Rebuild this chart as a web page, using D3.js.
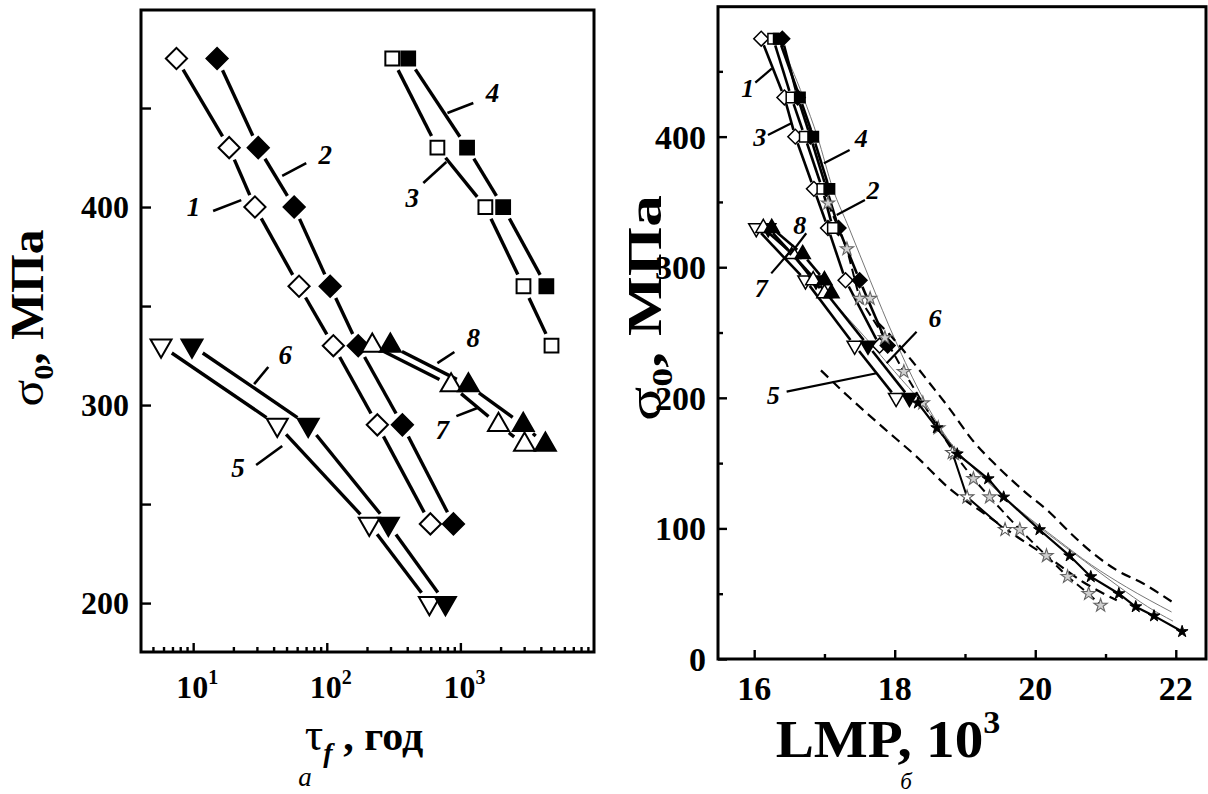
<!DOCTYPE html>
<html><head><meta charset="utf-8">
<script src="https://cdn.jsdelivr.net/npm/d3@7/dist/d3.min.js"></script>
<style>
body{margin:0;background:#fff}
svg{display:block}
text{font-family:"Liberation Serif","Times New Roman",serif;fill:#000}
</style>
</head><body>
<svg id="c" width="1208" height="794"></svg>
<script>
// ---------------- DATA ----------------
// Panel a: stress (MPa) vs rupture time (hours)
const stress1 = [475,430,400,360,330,290,240];
const tau1    = [7.5,18.6,29,62,112,239,596];
const stress2 = [475,430,400,360,330,290,240];
const tau2    = [15.1,30.7,57,106,172,368,887];
const stress3 = [475,430,400,360,330];
const tau3    = [309,673,1538,2966,4808];
const stress4 = [475,430,400,360];
const tau4    = [407,1122,2090,4400];
const stress5 = [330,290,240,200];
const tau5    = [5.75,42.6,208,586];
const stress6 = [330,290,240,200];
const tau6    = [9.8,72.6,289,773];
const stress7 = [330,310,290,280];
const tau7    = [219,852,1928,3020];
const stress8 = [330,310,290,280];
const tau8    = [299,1148,2954,4326];

// Panel б: same stresses vs LMP (x10^3)
const lmp1 = [16.10,16.43,16.585,16.85,17.05,17.30,17.785];
const lmp2 = [16.40,16.62,16.80,17.03,17.20,17.50,17.90];
const lmp3 = [16.27,16.53,16.72,16.97,17.12];
const lmp4 = [16.35,16.65,16.84,17.07];
const lmp5 = [16.03,16.73,17.43,18.02];
const lmp6 = [16.20,16.88,17.62,18.21];
const lmp7 = [16.13,16.55,16.84,17.00];
const lmp8 = [16.25,16.69,17.00,17.10];

const blackStarLmp = [18.33,18.60,18.89,19.33,19.55,20.06,20.49,20.79,21.19,21.43,21.69,22.09];
const blackStarSig = [196,177,157,138,124,99,79,63,50,40,33,21];
const grayStarLmp  = [17.05,17.32,17.50,17.86,18.13,18.40,18.62,18.85,19.12,19.35,19.78,20.16,20.46,20.76,20.93];
const grayStarSig  = [349,314,276,246,220,196,177,157,138,124,99,79,63,50,41];
const grayStar2Lmp = [17.65];
const grayStar2Sig = [276];
const openStarLmp  = [18.82,19.03,19.57];
const openStarSig  = [158,124,99];

const upperDashLmp = [17.75,17.90,18.25,18.50,18.79,19.10,19.45,19.83,20.21,20.49,20.82,21.16,21.53,21.94];
const upperDashSig = [258,250,228,211,191,168,148,129,112,97,81,68,58,44];
const lowerDashLmp = [16.95,17.36,17.84,18.31,18.79,19.26,19.73,20.21,20.68,21.16];
const lowerDashSig = [221,200,177,155,130,112,94,77,59,45];
const thinALmp = [16.35,16.70,16.90,17.12,17.35,17.65,18.0,18.4,18.8,19.3,19.8,20.3,20.8,21.3,21.94];
const thinASig = [475,430,400,360,330,290,245,200,165,137,113,92,72,55,36];
const thinBLmp = [16.15,16.6,17.1,17.6,18.0,18.4,18.8,19.2,19.7,20.2,20.7,21.2,21.6,21.96];
const thinBSig = [330,305,275,245,220,195,165,142,117,95,75,55,40,29];

// ticks
const leftYTicks = [200,300,400];
const leftYMinor = [250,350,450];
const leftXTicks = [10,100,1000];
const leftXSup   = ["1","2","3"];
const rightYTicks = [0,100,200,300,400];
const rightYMinor = [50,150,250,350,450];
const rightXTicks = [16,18,20,22];
const rightXMinor = [17,19,21];

// curve labels (number, position, leader ends) in data units
const labelNums = ["1","2","3","4","5","6","7","8"];
const leftLabelTau = [10.05,97.5,436,1738,21.7,48.9,733,1250];
const leftLabelSig = [400,426.3,405,457.6,268.2,325.3,287.4,334.3];
const leftLeadTau1 = [14.1,46.4,528,800,29.6,28.6,933,673];
const leftLeadSig1 = [398,415.7,412.1,447.5,269.7,310.6,294.4,321.2];
const leftLeadTau2 = [22.9,70.2,785,1250,46.4,36.5,1340,902];
const leftLeadSig2 = [403.5,422.2,422.7,452.5,279.3,319.2,298.5,326.8];
const rightLabelLmp = [15.91,17.69,16.078,17.523,16.272,18.572,16.101,16.647];
const rightLabelSig = [437.2,359.1,399.9,398.7,202.1,260.9,283.8,332.3];
const rightLeadLmp1 = [16.016,17.174,16.196,16.993,16.462,18.311,16.243,16.741];
const rightLeadSig1 = [441.3,340,401.2,379.6,204.7,250.6,295.3,326];
const rightLeadLmp2 = [16.253,17.576,16.528,17.358,17.742,17.885,16.552,16.505];
const rightLeadSig2 = [452.3,351.5,410.2,389.7,218.8,226.4,314.5,309.3];

// ---------------- DRAWING ----------------
const svg = d3.select("#c");
const xL = d3.scaleLog().domain([4.07,10000]).range([141,594]);
const yL = d3.scaleLinear().domain([175.3,499.5]).range([652,10]);
const xR = d3.scaleLinear().domain([15.485,22.43]).range([718,1206]);
const yR = d3.scaleLinear().domain([0,499.5]).range([659,6.7]);

const kinds = [["diamond",false],["diamond",true],["square",false],["square",true],
               ["tdown",false],["tdown",true],["tup",false],["tup",true]];
const MK = {
  diamond:{type:d3.symbolSquare,rot:45},
  square:{type:d3.symbolSquare,rot:0},
  tdown:{type:d3.symbolTriangle,rot:180},
  tup:{type:d3.symbolTriangle,rot:0}
};
const sizesL = {diamond:225,square:190,tdown:190,tup:190};
const sizesR = {diamond:110,square:110,tdown:100,tup:100};

function gapSegs(pts,g){
  const s=[];
  for(let i=0;i<pts.length-1;i++){
    const [x1,y1]=pts[i],[x2,y2]=pts[i+1];
    const dx=x2-x1,dy=y2-y1,L=Math.hypot(dx,dy);
    if(L<=2*g+1) continue;
    const ux=dx/L,uy=dy/L;
    s.push([[x1+ux*g,y1+uy*g],[x2-ux*g,y2-uy*g]]);
  }
  return s;
}
function drawSegs(g,segs,w){
  g.selectAll(null).data(segs).join("line")
   .attr("x1",d=>d[0][0]).attr("y1",d=>d[0][1]).attr("x2",d=>d[1][0]).attr("y2",d=>d[1][1])
   .attr("stroke","#000").attr("stroke-width",w).attr("stroke-linecap","butt");
}
function drawMarkers(g,pts,kind,filled,size,sw){
  g.selectAll(null).data(pts).join("path")
   .attr("d",d3.symbol().type(MK[kind].type).size(size)())
   .attr("transform",d=>`translate(${d[0]},${d[1]}) rotate(${MK[kind].rot})`)
   .attr("fill",filled?"#000":"#fff").attr("stroke","#000").attr("stroke-width",sw);
}
const line = d3.line();

// ===== Panel a =====
const gA = svg.append("g");
const tauS = [tau1,tau2,tau3,tau4,tau5,tau6,tau7,tau8];
const sigS = [stress1,stress2,stress3,stress4,stress5,stress6,stress7,stress8];
const ptsA = tauS.map((t,i)=>t.map((v,j)=>[xL(v),yL(sigS[i][j])]));
ptsA.forEach(p=>drawSegs(gA,gapSegs(p,13),3.4));
ptsA.forEach((p,i)=>drawMarkers(gA,p,kinds[i][0],kinds[i][1],sizesL[kinds[i][0]],2));

labelNums.forEach((n,i)=>{
  gA.append("line").attr("x1",xL(leftLeadTau1[i])).attr("y1",yL(leftLeadSig1[i]))
    .attr("x2",xL(leftLeadTau2[i])).attr("y2",yL(leftLeadSig2[i]))
    .attr("stroke","#000").attr("stroke-width",2.6);
  gA.append("text").attr("x",xL(leftLabelTau[i])).attr("y",yL(leftLabelSig[i]))
    .attr("text-anchor","middle").attr("dy","0.35em")
    .style("font-size","27px").style("font-style","italic").style("font-weight","bold").text(n);
});

gA.append("rect").attr("x",141).attr("y",10).attr("width",453).attr("height",642)
  .attr("fill","none").attr("stroke","#000").attr("stroke-width",3);
const axA = gA.append("g").attr("transform","translate(141,0)");
axA.call(d3.axisLeft(yL).tickValues(leftYTicks.concat(leftYMinor)).tickSizeInner(-10).tickSizeOuter(0).tickFormat(""));
const minorsL=[];
[1,10,100,1000].forEach(dec=>{for(let k=2;k<=9;k++){const v=k*dec; if(v>4.07&&v<10000) minorsL.push(v);}});
const axB = gA.append("g").attr("transform","translate(0,652)");
axB.call(d3.axisBottom(xL).tickValues(leftXTicks).tickSizeInner(-9).tickSizeOuter(0).tickFormat(""));
const axB2 = gA.append("g").attr("transform","translate(0,652)");
axB2.call(d3.axisBottom(xL).tickValues(minorsL).tickSizeInner(-5).tickSizeOuter(0).tickFormat(""));
[axA,axB,axB2].forEach(a=>{a.select(".domain").remove();a.selectAll(".tick line").attr("stroke-width",2.4);});

leftYTicks.forEach(v=>{
  gA.append("text").attr("x",129).attr("y",yL(v)).attr("dy","0.35em").attr("text-anchor","end")
    .style("font-size","32px").style("font-weight","bold").text(v);
});
leftXTicks.forEach((v,i)=>{
  const t=gA.append("text").attr("x",xL(v)+4).attr("y",698).attr("text-anchor","middle")
    .style("font-size","32px").style("font-weight","bold");
  t.append("tspan").text("10");
  t.append("tspan").attr("dy",-14).style("font-size","20px").text(leftXSup[i]);
});
const ytA = gA.append("text").attr("transform","translate(43,318) rotate(-90) scale(1.08,1)").attr("text-anchor","middle")
  .style("font-size","46px");
ytA.append("tspan").text("σ");
ytA.append("tspan").attr("dy",10).style("font-size","28px").style("font-weight","bold").text("0");
ytA.append("tspan").attr("dy",-10).style("font-weight","bold").text(", МПа");
const xtA = gA.append("text").attr("x",364).attr("y",750).attr("text-anchor","middle").style("font-size","46px");
xtA.append("tspan").text("τ");
xtA.append("tspan").attr("dy",12).style("font-size","28px").style("font-style","italic").style("font-weight","bold").text("f");
xtA.append("tspan").attr("dy",-12).style("font-weight","bold").style("font-size","42px").text(" , год");
gA.append("text").attr("x",305).attr("y",786).attr("text-anchor","middle")
  .style("font-size","27px").style("font-style","italic").text("а");

// ===== Panel б =====
const gB = svg.append("g");
const toR = (xs,ys)=>xs.map((v,j)=>[xR(v),yR(ys[j])]);
[[thinALmp,thinASig],[thinBLmp,thinBSig]].forEach(([a,b])=>{
  gB.append("path").attr("d",d3.line().curve(d3.curveMonotoneX)(toR(a,b)))
    .attr("fill","none").attr("stroke","#777").attr("stroke-width",1);
});
[[upperDashLmp,upperDashSig],[lowerDashLmp,lowerDashSig]].forEach(([a,b])=>{
  gB.append("path").attr("d",d3.line().curve(d3.curveMonotoneX)(toR(a,b)))
    .attr("fill","none").attr("stroke","#000").attr("stroke-width",2.2).attr("stroke-dasharray","10,6");
});
gB.append("path").attr("d",line(toR(grayStarLmp,grayStarSig))).attr("fill","none")
  .attr("stroke","#000").attr("stroke-width",2).attr("stroke-dasharray","9,5");
gB.append("path").attr("d",line(toR(blackStarLmp,blackStarSig))).attr("fill","none")
  .attr("stroke","#000").attr("stroke-width",2.2);
gB.append("path").attr("d",line(toR(openStarLmp,openStarSig))).attr("fill","none")
  .attr("stroke","#000").attr("stroke-width",2);

const lmpS = [lmp1,lmp2,lmp3,lmp4,lmp5,lmp6,lmp7,lmp8];
const ptsB = lmpS.map((l,i)=>toR(l,sigS[i]));
ptsB.forEach(p=>drawSegs(gB,gapSegs(p,7),2.6));
ptsB.forEach((p,i)=>drawMarkers(gB,p,kinds[i][0],kinds[i][1],sizesR[kinds[i][0]],1.5));

function drawStars(pts,fill,stroke,sw,size){
  const star = d3.symbol().type(d3.symbolStar).size(size)();
  gB.selectAll(null).data(pts).join("path").attr("d",star)
    .attr("transform",d=>`translate(${d[0]},${d[1]})`)
    .attr("fill",fill).attr("stroke",stroke).attr("stroke-width",sw);
}
drawStars(toR(grayStarLmp,grayStarSig),"#d0d0d0","#666",1.1,55);
drawStars(toR(grayStar2Lmp,grayStar2Sig),"#d0d0d0","#666",1.1,55);
drawStars(toR(openStarLmp,openStarSig),"#fff","#555",1.1,55);
drawStars(toR(blackStarLmp,blackStarSig),"#000","#000",1,44);

labelNums.forEach((n,i)=>{
  gB.append("line").attr("x1",xR(rightLeadLmp1[i])).attr("y1",yR(rightLeadSig1[i]))
    .attr("x2",xR(rightLeadLmp2[i])).attr("y2",yR(rightLeadSig2[i]))
    .attr("stroke","#000").attr("stroke-width",2.2);
  gB.append("text").attr("x",xR(rightLabelLmp[i])).attr("y",yR(rightLabelSig[i]))
    .attr("text-anchor","middle").attr("dy","0.35em")
    .style("font-size","26px").style("font-style","italic").style("font-weight","bold").text(n);
});

gB.append("rect").attr("x",718).attr("y",6.7).attr("width",488).attr("height",652.3)
  .attr("fill","none").attr("stroke","#000").attr("stroke-width",3);
const axC = gB.append("g").attr("transform","translate(718,0)");
axC.call(d3.axisLeft(yR).tickValues(rightYTicks).tickSizeInner(-9).tickSizeOuter(0).tickFormat(""));
const axC2 = gB.append("g").attr("transform","translate(718,0)");
axC2.call(d3.axisLeft(yR).tickValues(rightYMinor).tickSizeInner(-5).tickSizeOuter(0).tickFormat(""));
const axD = gB.append("g").attr("transform","translate(0,659)");
axD.call(d3.axisBottom(xR).tickValues(rightXTicks).tickSizeInner(-9).tickSizeOuter(0).tickFormat(""));
const axD2 = gB.append("g").attr("transform","translate(0,659)");
axD2.call(d3.axisBottom(xR).tickValues(rightXMinor).tickSizeInner(-5).tickSizeOuter(0).tickFormat(""));
[axC,axC2,axD,axD2].forEach(a=>{a.select(".domain").remove();a.selectAll(".tick line").attr("stroke-width",2.4);});

rightYTicks.forEach(v=>{
  gB.append("text").attr("x",706).attr("y",yR(v)).attr("dy","0.35em").attr("text-anchor","end")
    .style("font-size","34px").style("font-weight","bold").text(v);
});
rightXTicks.forEach(v=>{
  gB.append("text").attr("x",xR(v)).attr("y",700).attr("text-anchor","middle")
    .style("font-size","34px").style("font-weight","bold").text(v);
});
const ytB = gB.append("text").attr("transform","translate(661,308) rotate(-90) scale(1.35,1.05)").attr("text-anchor","middle")
  .style("font-size","47px");
ytB.append("tspan").text("σ");
ytB.append("tspan").attr("dy",10).style("font-size","28px").style("font-weight","bold").text("0");
ytB.append("tspan").attr("dy",-10).style("font-weight","bold").text(", МПа");
const xtB = gB.append("text").attr("transform","translate(888,757) scale(1.1,1)").attr("text-anchor","middle")
  .style("font-size","52px").style("font-weight","bold");
xtB.append("tspan").text("LMP, 10");
xtB.append("tspan").attr("dy",-24).style("font-size","31px").text("3");
gB.append("text").attr("x",906).attr("y",789).attr("text-anchor","middle")
  .style("font-size","23px").style("font-style","italic").text("б");
</script>
</body></html>
